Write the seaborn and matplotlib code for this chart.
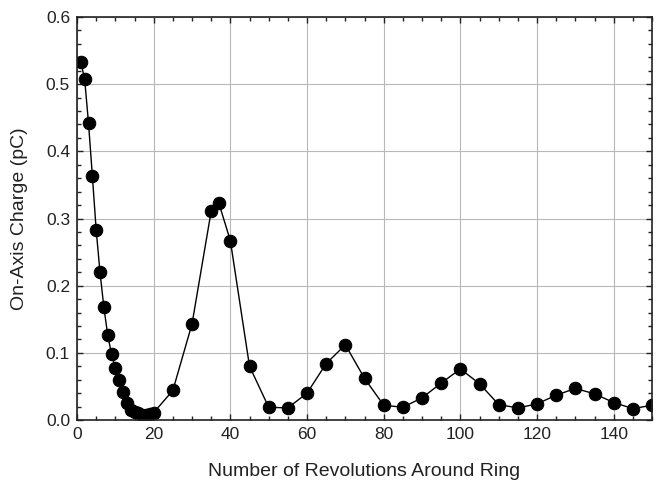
import numpy as np
import pandas as pd
import matplotlib
matplotlib.use("Agg")
import matplotlib.pyplot as plt
import seaborn as sns
from matplotlib.ticker import MultipleLocator

# revolutions around the ring and on-axis charge (pC)
revolutions = [1, 2, 3, 4, 5, 6, 7, 8, 9, 10, 11, 12, 13, 14, 15, 16, 17, 18, 19, 20,
               25, 30, 35, 37, 40, 45, 50, 55, 60, 65, 70, 75, 80, 85, 90, 95, 100,
               105, 110, 115, 120, 125, 130, 135, 140, 145, 150]
charge = [0.533, 0.507, 0.442, 0.364, 0.283, 0.220, 0.168, 0.127, 0.098, 0.077,
          0.059, 0.041, 0.025, 0.015, 0.012, 0.010, 0.008, 0.008, 0.009, 0.011,
          0.044, 0.143, 0.311, 0.323, 0.267, 0.080, 0.019, 0.018, 0.040, 0.084,
          0.112, 0.062, 0.022, 0.019, 0.033, 0.055, 0.076, 0.054, 0.023, 0.018,
          0.024, 0.037, 0.047, 0.039, 0.026, 0.017, 0.022]

df = pd.DataFrame({"rev": revolutions, "charge": charge})

sns.set_style("ticks")
plt.rcParams["font.family"] = ["Liberation Sans", "DejaVu Sans"]

fig = plt.figure(figsize=(6.65, 4.83), dpi=100)
ax = fig.add_axes([0.1158, 0.1304, 0.8647, 0.8344])

sns.lineplot(data=df, x="rev", y="charge", ax=ax, color="black", linewidth=1.0,
             marker="o", markersize=9, markeredgecolor="black", markerfacecolor="black")

ax.set_xlim(0, 150)
ax.set_ylim(0, 0.6)
ax.xaxis.set_major_locator(MultipleLocator(20))
ax.xaxis.set_minor_locator(MultipleLocator(5))
ax.yaxis.set_major_locator(MultipleLocator(0.1))
ax.yaxis.set_minor_locator(MultipleLocator(0.02))
ax.yaxis.set_major_formatter(matplotlib.ticker.FormatStrFormatter("%.1f"))

ax.grid(True, which="major", color="#b8b8b8", linewidth=0.8)
ax.set_axisbelow(True)
ax.tick_params(which="both", direction="in", top=True, right=True, labelsize=12.5,
               colors="#222222", pad=5)
ax.tick_params(which="major", length=4, width=1)
ax.tick_params(which="minor", length=3, width=1)
for s in ax.spines.values():
    s.set_color("#222222")
    s.set_linewidth(1.2)

ax.set_xlabel("Number of Revolutions Around Ring", fontsize=14, labelpad=15, color="#222222")
ax.set_ylabel("On-Axis Charge (pC)", fontsize=14, labelpad=13, color="#222222")

fig.savefig("out.png", dpi=100)
